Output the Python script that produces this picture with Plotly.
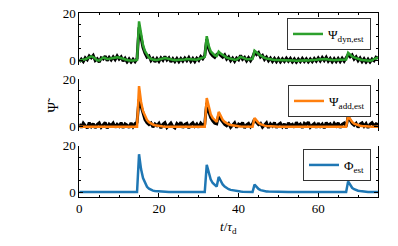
import numpy as np
import plotly.graph_objects as go

# time grid (t / tau_d), step 0.5
t = np.arange(0, 75.01, 0.5)

# Panel 1: data (black) and dynamic estimate (green)
psi_data_1 = [
    -0.5, 0.6, -0.4, 1.2, 0.4, 2.0, 1.2, 2.2, 0.1, 0.8,
    -0.6, 1.2, 0.7, 1.9, 0.0, 1.4, 0.3, 1.6, 0.4, 2.0,
    0.7, 1.6, -0.2, 1.0, -0.5, 0.7, -0.6, 0.6, -0.4, 0.9,
    14.0, 9.0, 5.5, 3.2, 1.5, 2.0, 0.0, 1.0, -0.5, 0.9,
    -0.3, 1.2, 0.2, 1.8, 0.3, 1.2, -0.5, 0.8, -0.4, 0.9,
    -0.4, 0.9, -0.2, 1.1, 0.0, 1.3, -0.3, 0.9, -0.4, 1.0,
    0.1, 1.7, 0.8, 2.2, 9.0, 5.0, 3.0, 2.0, 1.4, 2.6,
    3.2, 2.2, 1.5, 2.4, 0.7, 1.6, 0.0, 1.1, -0.3, 1.1,
    0.4, 2.2, 0.6, 1.4, -0.1, 1.2, 0.0, 1.4, 3.6, 2.6,
    3.4, 1.5, 2.2, 0.5, 1.5, 0.0, 1.1, -0.3, 0.9, -0.4,
    0.9, -0.5, 0.8, -0.3, 1.0, -0.2, 0.9, -0.5, 0.7, -0.6,
    0.7, -0.4, 0.9, -0.3, 0.8, -0.5, 0.7, -0.4, 0.9, -0.2,
    1.1, -0.1, 1.3, 0.1, 1.4, -0.2, 0.9, -0.5, 0.8, -0.4,
    0.9, -0.4, 1.0, -0.2, 1.1, 2.6, 1.6, 2.4, 0.7, 1.6,
    0.0, 1.1, -0.4, 0.8, -0.6, 0.6, -0.6, 0.7, 0.0, 1.5,
    1.1,
]
psi_dyn_est = [
    0.0, 0.1, 0.3, 0.6, 1.0, 1.4, 1.8, 1.5, 0.8, 0.2,
    0.1, 0.6, 1.3, 1.1, 0.7, 0.8, 1.0, 0.9, 1.1, 1.4,
    1.3, 1.0, 0.6, 0.4, 0.3, 0.1, 0.0, 0.1, 0.2, 0.3,
    16.5, 10.5, 6.5, 4.0, 2.3, 1.3, 0.7, 0.4, 0.3, 0.3,
    0.4, 0.6, 0.9, 1.1, 0.9, 0.6, 0.3, 0.2, 0.2, 0.3,
    0.3, 0.3, 0.4, 0.5, 0.7, 0.6, 0.4, 0.3, 0.3, 0.4,
    0.7, 1.1, 1.5, 1.6, 10.3, 6.2, 3.9, 2.8, 2.2, 2.0,
    3.8, 3.0, 2.3, 1.8, 1.3, 1.0, 0.7, 0.5, 0.4, 0.5,
    1.0, 1.6, 1.3, 0.8, 0.6, 0.6, 0.7, 0.8, 4.2, 3.3,
    2.8, 2.2, 1.6, 1.2, 0.9, 0.7, 0.5, 0.4, 0.3, 0.3,
    0.3, 0.2, 0.2, 0.3, 0.3, 0.4, 0.3, 0.2, 0.1, 0.0,
    0.1, 0.2, 0.3, 0.3, 0.2, 0.1, 0.1, 0.2, 0.3, 0.4,
    0.5, 0.6, 0.7, 0.8, 0.7, 0.5, 0.3, 0.2, 0.2, 0.3,
    0.3, 0.3, 0.4, 0.4, 0.5, 3.3, 2.4, 1.8, 1.4, 1.0,
    0.7, 0.5, 0.3, 0.2, 0.1, 0.0, 0.0, 0.2, 0.6, 1.0,
    1.4,
]

# Panel 2: data (black) and additive estimate (orange)
psi_data_2 = [
    1.2, -0.4, 1.5, 0.3, -0.6, 1.7, 0.1, 1.3, -0.5, 0.9,
    1.6, -0.2, 0.6, 1.8, -0.7, 1.1, 0.4, 1.5, -0.3, 1.0,
    0.2, 1.7, -0.5, 1.2, 0.7, -0.4, 1.6, 0.0, 1.3, 1.8,
    11.5, 8.6, 5.2, 3.0, 1.6, 0.9, 1.5, -0.2, 1.1, 0.4,
    1.4, -0.6, 1.0, 1.7, -0.3, 0.8, 1.5, 0.1, -0.5, 1.3,
    0.5, 1.8, -0.4, 1.0, 1.4, -0.6, 0.9, 1.6, 0.2, 1.1,
    -0.3, 1.5, 0.6, 1.2, 10.0, 6.2, 3.8, 2.4, 1.5, 1.2,
    5.0, 3.1, 1.9, 1.0, 0.4, 1.3, -0.3, 0.9, 1.6, -0.4,
    1.1, 0.6, 1.7, -0.5, 0.8, 1.4, 0.0, 1.2, 3.2, 1.8,
    0.9, 1.4, -0.2, 0.7, 1.6, -0.5, 1.2, 0.3, 1.7, -0.4,
    0.9, 1.5, 0.0, 1.2, -0.6, 1.6, 0.5, 1.0, -0.3, 1.8,
    0.4, 1.1, -0.5, 1.4, 0.8, 1.9, -0.2, 0.7, 1.3, -0.4,
    1.5, 0.2, 1.1, -0.6, 1.7, 0.6, 1.2, -0.2, 1.4, 0.3,
    1.6, -0.4, 1.0, 1.5, 0.1, 4.2, 2.4, 1.3, 0.6, 1.4,
    -0.3, 1.1, 1.6, 0.2, 1.3, -0.5, 1.0, 1.7, 0.4, 1.2,
    0.8,
]
psi_add_est = [
    0, 0, 0, 0, 0, 0, 0, 0, 0, 0,
    0, 0, 0, 0, 0, 0, 0, 0, 0, 0,
    0, 0, 0, 0, 0, 0, 0, 0, 0, 0,
    17.0, 10.5, 6.5, 4.2, 2.8, 1.9, 1.3, 0.9, 0.6, 0.4,
    0.3, 0.2, 0.1, 0, 0, 0, 0, 0, 0, 0,
    0, 0, 0, 0, 0, 0, 0, 0, 0, 0,
    0, 0, 0, 0, 12.0, 7.8, 5.2, 3.6, 2.6, 2.0,
    6.2, 4.2, 2.9, 2.0, 1.4, 1.0, 0.7, 0.5, 0.35, 0.25,
    0.15, 0.1, 0.05, 0, 0, 0, 0, 0, 3.6, 2.4,
    1.6, 1.1, 0.7, 0.45, 0.3, 0.2, 0.1, 0.05, 0, 0,
    0, 0, 0, 0, 0, 0, 0, 0, 0, 0,
    0, 0, 0, 0, 0, 0, 0, 0, 0, 0,
    0, 0, 0, 0, 0, 0, 0, 0, 0, 0,
    0, 0, 0, 0, 0, 4.5, 3.0, 2.0, 1.3, 0.9,
    0.6, 0.4, 0.25, 0.15, 0.1, 0.05, 0, 0, 0, 0,
    0,
]

# Panel 3: estimated forcing (blue)
phi_est = [
    0.3, 0.3, 0.3, 0.3, 0.3, 0.3, 0.3, 0.3, 0.3, 0.3,
    0.3, 0.3, 0.3, 0.3, 0.3, 0.3, 0.35, 0.4, 0.5, 0.6,
    0.6, 0.5, 0.4, 0.35, 0.3, 0.3, 0.3, 0.3, 0.3, 0.3,
    16.3, 10.0, 6.2, 3.9, 2.5, 1.7, 1.2, 0.9, 0.7, 0.6,
    0.5, 0.45, 0.4, 0.35, 0.3, 0.3, 0.3, 0.3, 0.3, 0.3,
    0.3, 0.3, 0.3, 0.3, 0.3, 0.3, 0.3, 0.3, 0.3, 0.3,
    0.3, 0.3, 0.3, 0.3, 11.8, 8.0, 5.6, 4.1, 3.2, 2.6,
    6.7, 4.8, 3.5, 2.6, 2.0, 1.5, 1.2, 1.0, 0.85, 0.7,
    0.6, 0.5, 0.45, 0.4, 0.35, 0.35, 0.3, 0.3, 3.4, 2.3,
    1.6, 1.1, 0.85, 0.7, 0.55, 0.5, 0.45, 0.4, 0.35, 0.3,
    0.3, 0.3, 0.3, 0.3, 0.3, 0.3, 0.3, 0.3, 0.3, 0.3,
    0.3, 0.3, 0.3, 0.3, 0.3, 0.3, 0.3, 0.3, 0.3, 0.3,
    0.3, 0.3, 0.3, 0.3, 0.3, 0.3, 0.3, 0.3, 0.3, 0.3,
    0.3, 0.3, 0.3, 0.3, 0.3, 4.8, 3.2, 2.1, 1.5, 1.1,
    0.85, 0.7, 0.55, 0.45, 0.4, 0.35, 0.3, 0.3, 0.3, 0.3,
    0.3,
]

x_ticks = [0, 20, 40, 60]
y_ticks = [0, 20]

GREEN = "#2ca02c"
ORANGE = "#ff7f0e"
BLUE = "#1f77b4"
FONT = "Liberation Serif"

fig = go.Figure()
fig.add_trace(go.Scatter(x=t, y=psi_data_1, mode="lines", line=dict(color="black", width=3),
                         showlegend=False, xaxis="x", yaxis="y"))
fig.add_trace(go.Scatter(x=t, y=psi_dyn_est, mode="lines", line=dict(color=GREEN, width=2.5),
                         name="Ψ<sub>dyn,est</sub>", legend="legend", xaxis="x", yaxis="y"))
fig.add_trace(go.Scatter(x=t, y=psi_data_2, mode="lines", line=dict(color="black", width=3),
                         showlegend=False, xaxis="x2", yaxis="y2"))
fig.add_trace(go.Scatter(x=t, y=psi_add_est, mode="lines", line=dict(color=ORANGE, width=2.5),
                         name="Ψ<sub>add,est</sub>", legend="legend2", xaxis="x2", yaxis="y2"))
fig.add_trace(go.Scatter(x=t, y=phi_est, mode="lines", line=dict(color=BLUE, width=2.5),
                         name="Φ<sub>est</sub>", legend="legend3", xaxis="x3", yaxis="y3"))

W, H = 398, 246


def px_x(p):
    return p / W


def px_y(p):
    return 1 - p / H


xdom = [px_x(79.3), px_x(378.0)]
panels = [(13, 64.5), (79, 130.5), (145.5, 196.5)]
ydoms = [[px_y(b), px_y(a)] for a, b in panels]

common_x = dict(range=[0, 75], domain=xdom, showgrid=False, zeroline=False, automargin=False,
                tickvals=x_ticks, linecolor="black", linewidth=1, tickcolor="black",
                ticklen=4, tickwidth=1, ticklabeloverflow="allow",
                tickfont=dict(family=FONT, size=13, color="black"))
minor_x = dict(dtick=5, tick0=0, ticks="inside", ticklen=2, tickwidth=1, tickcolor="black", showgrid=False)

yax = dict(range=[-1.6, 20], showgrid=False, zeroline=False, tickvals=y_ticks, automargin=False,
           showline=True, mirror="ticks", linecolor="black", linewidth=1,
           ticks="inside", ticklen=4, tickwidth=1, tickcolor="black", ticklabeloverflow="allow",
           minor=dict(dtick=5, tick0=0, ticks="inside", ticklen=2, tickwidth=1,
                      tickcolor="black", showgrid=False),
           tickfont=dict(family=FONT, size=13, color="black"))

fig.update_layout(
    width=W, height=H,
    margin=dict(l=0, r=0, t=0, b=0, autoexpand=False),
    paper_bgcolor="white", plot_bgcolor="white",
    hovermode=False,
    font=dict(family=FONT, size=13, color="black"),
    xaxis=dict(common_x, anchor="y", side="top", showline=True, ticks="inside",
               showticklabels=False, minor=minor_x),
    xaxis2=dict(common_x, anchor="y2", showline=False, ticks="", showticklabels=False),
    xaxis3=dict(common_x, anchor="y3", side="bottom", showline=True, ticks="inside",
                showticklabels=True, minor=minor_x),
    yaxis=dict(yax, domain=ydoms[0], anchor="x"),
    yaxis2=dict(yax, domain=ydoms[1], anchor="x2"),
    yaxis3=dict(yax, domain=ydoms[2], anchor="x3"),
)

leg_common = dict(xanchor="right", yanchor="top", bgcolor="white", bordercolor="#333333",
                  borderwidth=1, font=dict(family=FONT, size=13, color="black"))
fig.update_layout(
    legend=dict(leg_common, x=px_x(371), y=px_y(18)),
    legend2=dict(leg_common, x=px_x(371), y=px_y(85)),
    legend3=dict(leg_common, x=px_x(371), y=px_y(149)),
)

fig.add_annotation(text="Ψ\u0303", x=px_x(44), y=px_y(105), xref="paper", yref="paper",
                   showarrow=False, textangle=-90, font=dict(family=FONT, size=14, color="black"))
fig.add_annotation(text="<i>t</i>/<i>τ</i><sub>d</sub>", x=px_x(228), y=px_y(227),
                   xref="paper", yref="paper", showarrow=False, yanchor="middle",
                   font=dict(family=FONT, size=13, color="black"))

# remove the default 8px page margin so the figure sits at the window's corner
fig.write_html("out.html", config={"displayModeBar": False},
               post_script="document.body.style.margin='0px';")
